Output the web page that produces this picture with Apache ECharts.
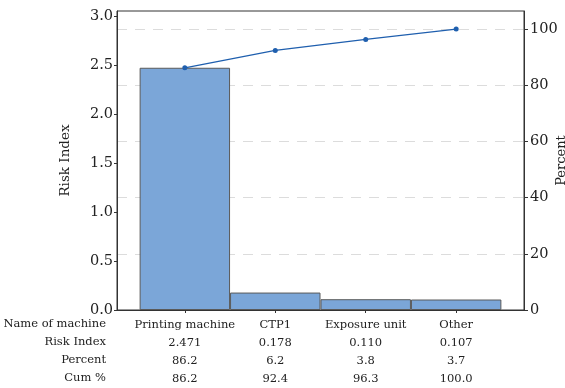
<!DOCTYPE html>
<html>
<head>
<meta charset="utf-8">
<script src="https://cdn.jsdelivr.net/npm/echarts@6/dist/echarts.min.js"></script>
<style>
  html, body { margin: 0; padding: 0; background: #fff; }
  #chart { width: 565px; height: 388px; }
</style>
</head>
<body>
<div id="chart"></div>
<script>
// Pareto data: risk index per machine with percent and cumulative percent
const machines = ['Printing machine', 'CTP1', 'Exposure unit', 'Other'];
const riskIndex = [2.471, 0.178, 0.110, 0.107];
const percent = [86.2, 6.2, 3.8, 3.7];
const cumPercent = [86.2, 92.4, 96.3, 100.0];
const rowHeaders = ['Name of machine', 'Risk Index', 'Percent', 'Cum %'];
const riskTicks = [0, 0.5, 1.0, 1.5, 2.0, 2.5, 3.0];
const percentTicks = [0, 20, 40, 60, 80, 100];

const FONT = 'DejaVu Serif';
const TEXT = '#222';
const AXIS = '#333';
const riskMax = 3.05;
const riskTotal = riskIndex.reduce((a, b) => a + b, 0);
// percent axis shares the same scale: 100 % equals the total risk index
const pctMax = riskMax / riskTotal * 100;
const positions = machines.map((_, i) => i);

const chart = echarts.init(document.getElementById('chart'), null, { renderer: 'canvas' });

chart.setOption({
  animation: false,
  backgroundColor: '#fff',
  grid: {
    left: 117, right: 41, top: 11, bottom: 78,
    containLabel: false,
    outerBoundsMode: 'none',
    show: true, borderColor: AXIS, borderWidth: 1, backgroundColor: 'transparent'
  },
  xAxis: {
    type: 'value',
    min: -0.75,
    max: 3.75,
    axisLine: { show: true, onZero: false, lineStyle: { color: AXIS, width: 1 } },
    axisTick: { show: true, length: 3, customValues: positions, lineStyle: { color: AXIS } },
    splitLine: { show: false },
    axisLabel: {
      customValues: positions,
      margin: 6,
      color: TEXT,
      fontFamily: FONT,
      fontSize: 11.5,
      lineHeight: 18,
      formatter: function (v) {
        const i = Math.round(v);
        return [machines[i], riskIndex[i].toFixed(3), percent[i].toFixed(1), cumPercent[i].toFixed(1)].join('\n');
      }
    }
  },
  yAxis: [
    {
      type: 'value',
      min: 0,
      max: riskMax,
      position: 'left',
      name: 'Risk Index',
      nameLocation: 'middle',
      nameGap: 45,
      nameMoveOverlap: false,
      nameTextStyle: { color: TEXT, fontFamily: FONT, fontSize: 13.5 },
      axisLine: { show: true, onZero: false, lineStyle: { color: AXIS, width: 1 } },
      axisTick: { show: true, length: 3, customValues: riskTicks, lineStyle: { color: AXIS } },
      axisLabel: {
        customValues: riskTicks,
        margin: 4,
        color: TEXT,
        fontFamily: FONT,
        fontSize: 14.5,
        formatter: v => v.toFixed(1)
      },
      splitLine: { show: false }
    },
    {
      type: 'value',
      min: 0,
      max: pctMax,
      interval: 20,
      position: 'right',
      name: 'Percent',
      nameLocation: 'middle',
      nameGap: 31,
      nameMoveOverlap: false,
      nameTextStyle: { color: TEXT, fontFamily: FONT, fontSize: 13 },
      axisLine: { show: true, onZero: false, lineStyle: { color: AXIS, width: 1 } },
      axisTick: { show: true, length: 4, customValues: percentTicks, lineStyle: { color: AXIS } },
      axisLabel: {
        customValues: percentTicks,
        margin: 6,
        color: TEXT,
        fontFamily: FONT,
        fontSize: 14.5
      },
      splitLine: {
        show: true,
        lineStyle: { color: '#dcdcdc', width: 1, type: [10, 8] }
      }
    }
  ],
  series: [
    {
      type: 'bar',
      yAxisIndex: 0,
      barWidth: '100%',
      data: riskIndex.map((v, i) => [i, v]),
      itemStyle: { color: '#7ba6d8', borderColor: '#5a5a5a', borderWidth: 1 },
      z: 2
    },
    {
      type: 'line',
      yAxisIndex: 1,
      data: cumPercent.map((v, i) => [i, v]),
      symbol: 'circle',
      symbolSize: 5,
      lineStyle: { color: '#1f5fae', width: 1.2 },
      itemStyle: { color: '#1f5fae' },
      z: 3
    }
  ],
  graphic: rowHeaders.map((t, r) => ({
    type: 'text',
    x: 106,
    y: 324 + r * 18,
    style: {
      text: t,
      align: 'right',
      verticalAlign: 'middle',
      fill: TEXT,
      font: '11.5px "DejaVu Serif"'
    }
  }))
});
</script>
</body>
</html>
